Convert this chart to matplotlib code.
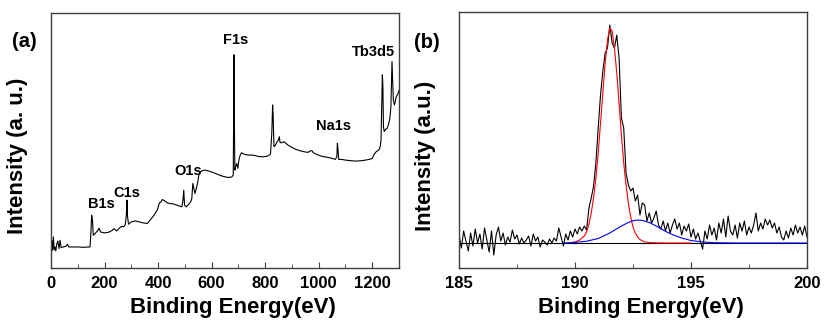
# XPS survey (a) and B1s high resolution (b) spectra
import numpy as np
import matplotlib
matplotlib.use('Agg')
import matplotlib.pyplot as plt

plt.rcParams['font.family'] = ['Liberation Sans', 'DejaVu Sans']
plt.rcParams['font.weight'] = 'bold'

# ---- panel (a): survey spectrum (eV, intensity 0-100)
survey_ev = [0, 3, 6, 9, 12, 15, 18, 22, 26, 30, 34, 38, 45, 55, 62, 66, 80, 100, 120, 140,
             146, 149, 152, 155, 158, 165, 175, 180, 185, 200, 215, 230, 235, 245, 258, 265,
             272, 278, 282, 284, 286, 290, 300, 315, 330, 345, 360, 370, 385, 398, 405, 410,
             416, 425, 435, 445, 460, 475, 489, 493, 496, 499, 505, 515, 522, 526, 530, 534,
             538, 543, 548, 553, 558, 565, 575, 590, 605, 620, 640, 660, 675, 681, 683, 684,
             685, 687, 690, 694, 698, 702, 707, 712, 720, 735, 750, 765, 780, 795, 810, 820,
             825, 828, 830, 833, 838, 845, 850, 853, 856, 862, 870, 875, 885, 900, 915, 930,
             945, 960, 970, 975, 980, 990, 1005, 1020, 1035, 1050, 1062, 1068, 1070, 1072,
             1075, 1085, 1100, 1120, 1140, 1160, 1175, 1190, 1200, 1208, 1215, 1225, 1230,
             1233, 1236, 1238, 1240, 1242, 1245, 1250, 1256, 1262, 1266, 1270, 1272, 1274,
             1276, 1279, 1283, 1286, 1290, 1294, 1297, 1300]
survey_px = [745, 720, 750, 710, 748, 740, 752, 730, 722, 745, 720, 742, 740, 738, 732, 740,
             740, 740, 741, 740, 740, 700, 645, 660, 705, 700, 690, 684, 695, 698, 696, 690,
             685, 692, 682, 678, 680, 672, 640, 600, 650, 672, 665, 662, 665, 668, 670, 660,
             645, 628, 608, 606, 598, 602, 608, 610, 612, 616, 620, 600, 570, 615, 620, 612,
             605, 596, 550, 565, 580, 565, 548, 522, 515, 512, 510, 513, 517, 522, 528, 532,
             531, 525, 300, 165, 350, 510, 500, 490, 505, 480, 465, 458, 462, 465, 465, 467,
             470, 470, 468, 462, 400, 315, 345, 440, 436, 425, 420, 410, 428, 428, 425, 428,
             435, 442, 448, 452, 455, 457, 452, 452, 458, 462, 467, 470, 472, 475, 478, 470,
             430, 445, 478, 478, 480, 482, 483, 482, 480, 478, 475, 462, 455, 450, 440, 420,
             300, 225, 260, 380, 395, 388, 385, 370, 355, 320, 250, 185, 230, 300, 315, 305,
             290, 285, 280, 272]
survey_int = (803 - np.array(survey_px)) / 7.63

peak_names = ['B1s', 'C1s', 'O1s', 'F1s', 'Na1s', 'Tb3d5']
peak_label_x = [190, 284, 512, 691, 1057, 1203]
peak_label_y = [25, 29.4, 38, 89.4, 55.7, 84.7]

# ---- panel (b): B1s region, intensity above the baseline
b_counts = [8, -5, 12, 2, -8, 10, -3, 14, 0, 9, -6, 15, 3, -9, 12, -12, 8, 16, 2, 10,
            -2, 6, 1, 13, 4, 8, -1, 5, 0, 3, 7, -3, 9, 2, 6, -4, 3, 1, -2, 4,
            0, 5, 2, 15, 6, -3, 9, 3, 12, 6, 14, 9, 16, 12, 17, 13, 35, 45, 57, 80,
            115, 148, 172, 190, 195, 218, 200, 195, 208, 185, 125, 115, 70, 58, 52, 55, 42, 48, 28, 40,
            38, 22, 30, 20, 25, 32, 18, 14, 22, 12, 20, 10, 18, 24, 14, 20, 8, 17, 12, 19,
            6, 14, 4, 10, 2, -6, 12, 4, 18, 8, 15, 3, 20, 10, 24, 6, 27, 12, 8, 18,
            5, 20, 12, 22, 8, 16, 10, 18, 30, 12, 20, 14, 24, 18, 23, 15, 20, 10, 16, 6,
            3, 12, 5, 15, 8, 18, 10, 16, 8, 17, 6]
b_ev = np.linspace(185, 200, len(b_counts))

fit1_ev = [189.8, 190.0, 190.2, 190.4, 190.5, 190.6, 190.7, 190.8, 190.9, 191.0, 191.1, 191.2,
           191.3, 191.4, 191.5, 191.6, 191.7, 191.8, 191.9, 192.0, 192.1, 192.2, 192.3, 192.4,
           192.5, 192.6, 192.7, 192.8, 193.0, 193.3, 193.6, 194.0, 195.0]
fit1_int = [0.3, 1, 3, 7, 11, 19, 30, 45, 65, 90, 120, 150, 180, 203, 215, 212, 195, 170,
            140, 108, 80, 58, 40, 26, 16, 10, 6, 3.5, 1, 0.3, 0.1, 0, 0]

fit2_ev = [189.5, 190.0, 190.5, 191.0, 191.5, 192.0, 192.3, 192.5, 192.7, 192.9, 193.2,
           193.5, 193.8, 194.0, 194.3, 194.6, 195.0, 195.5, 196.0, 197.0, 200.0]
fit2_int = [0, 0.6, 1.8, 4.5, 10, 17, 20.5, 22.3, 23, 22.6, 20.5, 17, 13, 10.5, 7.5, 5,
            2.5, 1, 0.3, 0, 0]

fig = plt.figure(figsize=(8.26, 3.29), dpi=100)
ax1 = fig.add_axes([0.0617, 0.1854, 0.4213, 0.775])
ax2 = fig.add_axes([0.5557, 0.1854, 0.4213, 0.778])

ax1.plot(survey_ev, survey_int, color='black', lw=0.8)
for name, x, y in zip(peak_names, peak_label_x, peak_label_y):
    ax1.text(x, y, name, ha='center', va='center', fontsize=10.5, fontweight='bold')
ax1.set_xlim(0, 1300)
ax1.set_ylim(0, 100)
ax1.set_xticks(np.arange(0, 1300, 200))
ax1.set_xticks(np.arange(100, 1300, 200), minor=True)

ax2.axhline(0, color='black', lw=0.8)
ax2.plot(b_ev, b_counts, color='black', lw=0.8)
ax2.plot(fit1_ev, fit1_int, color='red', lw=0.8)
ax2.plot(fit2_ev, fit2_int, color='blue', lw=0.8)
ax2.set_xlim(185, 200)
ax2.set_ylim(-25, 231)
ax2.set_xticks([185, 190, 195, 200])
ax2.set_xticks([187.5, 192.5, 197.5], minor=True)

for ax, ylab in [(ax1, 'Intensity (a. u.)'), (ax2, 'Intensity (a.u.)')]:
    ax.set_yticks([])
    for s in ax.spines.values():
        s.set_color('#404040')
        s.set_linewidth(1)
    ax.tick_params(axis='x', which='both', direction='in', labelsize=12, pad=6, color='#404040')
    ax.tick_params(axis='x', which='major', length=4)
    ax.tick_params(axis='x', which='minor', length=3)
    for lbl in ax.get_xticklabels():
        lbl.set_fontweight('bold')
    ax.set_xlabel('Binding Energy(eV)', fontsize=16, fontweight='bold')
    ax.xaxis.set_label_coords(0.524, -0.115)
    ax.set_ylabel(ylab, fontsize=16, fontweight='bold')
    ax.yaxis.set_label_coords(-0.066, 0.44)
ax1.text(-0.075, 0.89, '(a)', transform=ax1.transAxes, fontsize=14.5, fontweight='bold',
         ha='center', va='center')
ax2.text(-0.092, 0.88, '(b)', transform=ax2.transAxes, fontsize=14.5, fontweight='bold',
         ha='center', va='center')

fig.savefig('out.png', dpi=100)
